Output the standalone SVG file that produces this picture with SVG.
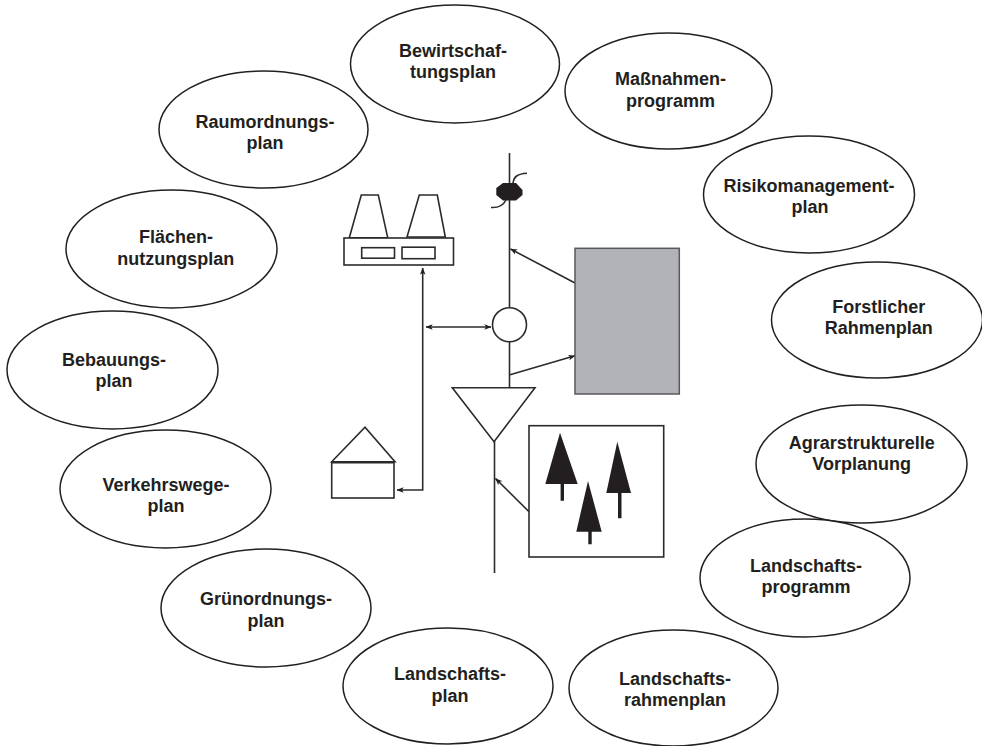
<svg xmlns="http://www.w3.org/2000/svg" width="982" height="746" viewBox="0 0 982 746">
<style>
.e{fill:#fff;stroke:#231f20;stroke-width:1.5}
.t{font-family:"Liberation Sans",Arial,sans-serif;font-size:18px;font-weight:bold;fill:#231f20;text-anchor:middle}
.l{fill:none;stroke:#2b2b2b;stroke-width:1.6}
.s{fill:#fff;stroke:#2b2b2b;stroke-width:1.6}
.k{fill:#231f20;stroke:none}
.a{fill:none;stroke:#2b2b2b;stroke-width:1.6;marker-end:url(#h)}
</style>
<defs>
<marker id="h" viewBox="0 0 10 8" refX="9.5" refY="4" markerWidth="7" markerHeight="6" markerUnits="userSpaceOnUse" orient="auto-start-reverse"><path d="M0 0L10 4L0 8L2.5 4Z" fill="#231f20"/></marker>
</defs>
<rect width="982" height="746" fill="#fff"/>
<g id="n1"><ellipse class="e" cx="455" cy="64" rx="104.500" ry="59"/><text class="t" x="453" y="57">Bewirtschaf-</text><text class="t" x="453" y="78">tungsplan</text></g>
<g id="n2"><ellipse class="e" cx="668.500" cy="91" rx="103.500" ry="58"/><text class="t" x="670.500" y="85.300">Maßnahmen-</text><text class="t" x="670.500" y="106.700">programm</text></g>
<g id="n3"><ellipse class="e" cx="809" cy="194.500" rx="105.500" ry="58.500"/><text class="t" x="809" y="191.700">Risikomanagement-</text><text class="t" x="810" y="213">plan</text></g>
<g id="n4"><ellipse class="e" cx="877" cy="320" rx="105.500" ry="58"/><text class="t" x="878.700" y="313">Forstlicher</text><text class="t" x="878.700" y="334">Rahmenplan</text></g>
<g id="n5"><ellipse class="e" cx="861.500" cy="464" rx="105.500" ry="59"/><text class="t" x="861.700" y="449">Agrarstrukturelle</text><text class="t" x="861.700" y="470">Vorplanung</text></g>
<g id="n6"><ellipse class="e" cx="805" cy="578" rx="105" ry="59"/><text class="t" x="806" y="572">Landschafts-</text><text class="t" x="806" y="593">programm</text></g>
<g id="n7"><ellipse class="e" cx="673.500" cy="688" rx="104.500" ry="58"/><text class="t" x="675" y="685">Landschafts-</text><text class="t" x="675" y="706">rahmenplan</text></g>
<g id="n8"><ellipse class="e" cx="448" cy="686" rx="105" ry="58"/><text class="t" x="450" y="680">Landschafts-</text><text class="t" x="450" y="701.700">plan</text></g>
<g id="n9"><ellipse class="e" cx="266" cy="608" rx="105" ry="59"/><text class="t" x="266" y="605">Grünordnungs-</text><text class="t" x="266" y="626.700">plan</text></g>
<g id="n10"><ellipse class="e" cx="165.500" cy="489" rx="105.500" ry="59"/><text class="t" x="166" y="490.700">Verkehrswege-</text><text class="t" x="166" y="511.700">plan</text></g>
<g id="n11"><ellipse class="e" cx="112.500" cy="370" rx="105.500" ry="59"/><text class="t" x="114" y="365.700">Bebauungs-</text><text class="t" x="114" y="387">plan</text></g>
<g id="n12"><ellipse class="e" cx="171.500" cy="249" rx="105.500" ry="59"/><text class="t" x="176" y="243">Flächen-</text><text class="t" x="175.700" y="265">nutzungsplan</text></g>
<g id="n13"><ellipse class="e" cx="263.500" cy="129.500" rx="104.500" ry="58.500"/><text class="t" x="265" y="127.700">Raumordnungs-</text><text class="t" x="265" y="149">plan</text></g>

<g id="connectors">
<path class="l" d="M509.500 153V387.500"/>
<path class="l" d="M494.500 441V573"/>
<path class="a" d="M575 283L510.500 249"/>
<path class="a" d="M510 374.700L575 355.800"/>
<path class="a" d="M426 327H491" marker-start="url(#h)"/>
<path class="l" d="M422.700 268V490H397" marker-start="url(#h)" marker-end="url(#h)"/>
<path class="a" d="M529 511.700L495.500 478.500"/>
</g>

<g id="factory">
<path class="s" d="M349.300 237.700L361.300 195H378.300L387.700 237.700Z"/>
<path class="s" d="M407 237L419.300 195H437.300L445.300 237Z"/>
<rect class="s" x="344" y="238" width="109.500" height="27"/>
<rect class="s" x="361.700" y="247.700" width="32.800" height="10.500"/>
<rect class="s" x="402" y="247.200" width="33" height="11.500"/>
</g>
<g id="bird">
<path class="k" d="M503 183H516L522.500 190V195L516 200.500H503L496.300 195V188Z"/>
<path class="l" d="M513 183C514 176 518 174 527 173.300"/>
<path class="l" d="M506 200C503 206 498 208 491 207.500"/>
</g>
<g id="junction"><circle class="s" cx="509.500" cy="324.700" r="17"/></g>
<g id="storage"><rect x="575" y="248.300" width="104.300" height="145.700" fill="#b1b3b6" stroke="#58595b" stroke-width="1.500"/></g>
<g id="funnel"><path class="s" d="M452.300 387.700H535L494 441.700Z"/></g>
<g id="house">
<path class="s" d="M331.700 461.700L365 427.300L395 461.700Z"/>
<rect class="s" x="331.700" y="462.700" width="62.300" height="35.300"/>
</g>
<g id="forest">
<rect class="s" x="529" y="425.700" width="134.700" height="131.300"/>
<path class="k" d="M560 432.700L577.700 484H564V500.700H560.600V484H545.300Z"/>
<path class="k" d="M617.300 441.700L631 493H621.500V518.300H618V493H606.300Z"/>
<path class="k" d="M588 481L601.700 531.700H591.700V544.300H588.300V531.700H576.300Z"/>
</g>
</svg>
